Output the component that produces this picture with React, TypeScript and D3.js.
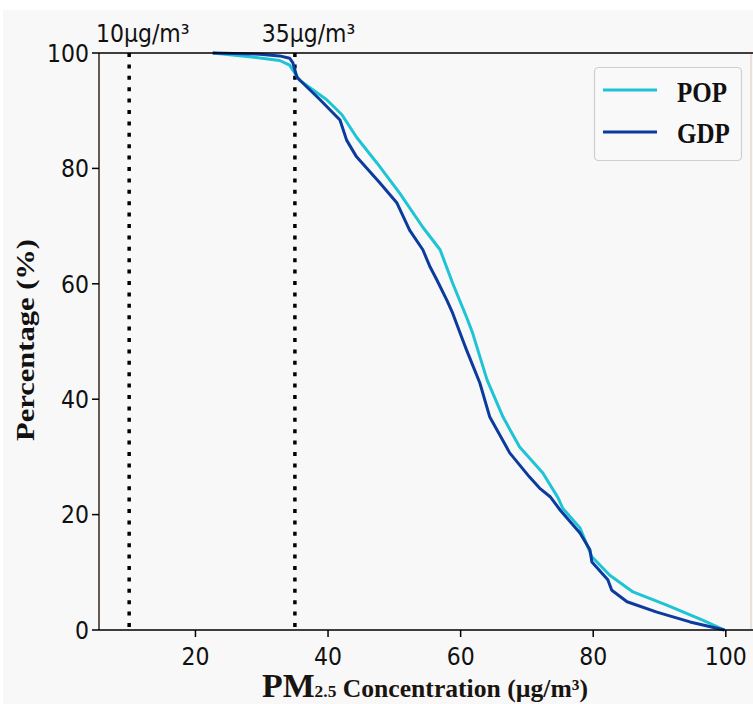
import * as d3 from 'd3';

// PM2.5 concentration (µg/m³) vs. cumulative percentage above it
const popX = [22.6, 27.8, 32.7, 34.2, 35.7, 39.8, 42.1, 44.3, 47.4, 50.8, 54.3, 56.9, 58.8, 59.4, 60.9, 61.8, 62.6, 64.0, 66.4, 68.9, 72.4, 74.7, 75.4, 78.0, 79.8, 82.5, 86.0, 91.1, 96.5, 99.8];
const popY = [100, 99.4, 98.7, 97.9, 95.3, 91.9, 89.3, 85.4, 80.9, 75.7, 69.8, 65.9, 60.1, 58.4, 54.2, 51.5, 48.5, 43.3, 36.9, 31.7, 27.2, 22.9, 21.1, 17.7, 12.7, 9.5, 6.6, 4.3, 1.7, 0];

const gdpX = [22.6, 29.7, 32.7, 34.2, 34.7, 35.3, 38.8, 41.8, 42.8, 44.3, 47.8, 50.4, 52.3, 54.3, 55.4, 56.4, 57.9, 58.8, 60.3, 60.9, 62.9, 64.4, 67.4, 70.4, 71.9, 73.5, 75.0, 78.0, 79.5, 79.8, 82.2, 82.8, 85.1, 89.6, 94.6, 99.8];
const gdpY = [100, 99.8, 99.5, 99.1, 98.3, 95.8, 91.9, 88.4, 84.9, 82.0, 77.5, 74.0, 69.3, 65.9, 62.9, 60.7, 57.2, 54.9, 50.3, 48.5, 42.8, 36.9, 30.7, 26.5, 24.6, 23.1, 20.8, 16.8, 13.9, 11.8, 8.7, 6.9, 4.9, 3.1, 1.4, 0];

const xTicks = [20, 40, 60, 80, 100];
const yTicks = [0, 20, 40, 60, 80, 100];
const thresholds = [10, 35];
const thresholdLabels = ['10µg/m³', '35µg/m³'];
const seriesNames = ['POP', 'GDP'];
const seriesColors = ['#1ec4d6', '#0c3b9e'];

const W = 753;
const H = 704;

export default function App() {
  const x = d3.scaleLinear().domain([5.45, 103.8]).range([99, 751]);
  const y = d3.scaleLinear().domain([0, 100]).range([630, 53]);

  const line = d3.line<[number, number]>()
    .x(d => x(d[0]))
    .y(d => y(d[1]));

  const pop = popX.map((v, i) => [v, popY[i]] as [number, number]);
  const gdp = gdpX.map((v, i) => [v, gdpY[i]] as [number, number]);
  const series = [pop, gdp];

  const tickFont = '"DejaVu Sans", sans-serif';
  const serif = '"Liberation Serif", "Times New Roman", serif';

  return (
    <svg width={W} height={H} style={{ position: 'absolute', left: 0, top: 0 }}>
      <rect x={0} y={0} width={W} height={H} fill="#ffffff" />
      <rect x={3} y={10} width={W - 3} height={H - 10} fill="#f8f8f8" />

      {/* threshold lines */}
      {thresholds.map((t, i) => (
        <g key={t}>
          <line x1={x(t)} x2={x(t)} y1={y(100)} y2={y(0)}
            stroke="#000" strokeWidth={3.5} strokeDasharray="4,7.4" />
          <text transform={`translate(${x(t - 5)},42) scale(1,1.1)`} fontFamily={tickFont} fontSize={22} fill="#111">
            {thresholdLabels[i]}
          </text>
        </g>
      ))}

      {/* curves */}
      {series.map((s, i) => (
        <path key={i} d={line(s) || ''} fill="none" stroke={seriesColors[i]}
          strokeWidth={3} strokeLinejoin="round" />
      ))}

      {/* spines */}
      <line x1={99} x2={99} y1={53} y2={630} stroke="#3a2418" strokeWidth={1.5} />
      <line x1={751} x2={751} y1={53} y2={630} stroke="#e2c8bc" strokeWidth={1} />
      <line x1={99} x2={753} y1={53} y2={53} stroke="#000" strokeWidth={1.5} />
      <line x1={99} x2={753} y1={630} y2={630} stroke="#000" strokeWidth={1.5} />

      {/* y axis */}
      {yTicks.map(t => (
        <g key={t}>
          <line x1={92} x2={99} y1={y(t)} y2={y(t)} stroke="#000" strokeWidth={1.5} />
          <text transform={`translate(89,${y(t)}) scale(1,1.1)`} dy="0.36em" textAnchor="end" fontFamily={tickFont}
            fontSize={22} fill="#111">{t}</text>
        </g>
      ))}

      {/* x axis */}
      {xTicks.map(t => (
        <g key={t}>
          <line x1={x(t)} x2={x(t)} y1={630} y2={637} stroke="#000" strokeWidth={1.5} />
          <text transform={`translate(${x(t)},665) scale(1,1.1)`} textAnchor="middle" fontFamily={tickFont}
            fontSize={22} fill="#111">{t}</text>
        </g>
      ))}

      {/* axis titles */}
      <text transform="translate(34,340) rotate(-90)" textAnchor="middle" fontFamily={serif}
        fontWeight="bold" fontSize={25} fill="#111" textLength={202} lengthAdjust="spacingAndGlyphs">
        Percentage (%)
      </text>
      <text x={262} y={697} fontFamily={serif} fontWeight="bold" fill="#1a1410"
        textLength={326} lengthAdjust="spacingAndGlyphs">
        <tspan fontSize={33}>PM</tspan>
        <tspan fontSize={17}>2.5</tspan>
        <tspan fontSize={25}> Concentration (µg/m³)</tspan>
      </text>

      {/* legend */}
      <rect x={594.5} y={67.5} width={147} height={93} rx={4} fill="#f9f9f9" stroke="#cfcfcf" strokeWidth={1.2} />
      {seriesNames.map((n, i) => (
        <g key={n}>
          <line x1={603} x2={657} y1={90 + i * 42} y2={90 + i * 42} stroke={seriesColors[i]} strokeWidth={3} />
          <text transform={`translate(677,${102 + i * 41}) scale(1,1.2)`} fontFamily={serif}
            fontWeight="bold" fontSize={25} fill="#111">{n}</text>
        </g>
      ))}
    </svg>
  );
}
